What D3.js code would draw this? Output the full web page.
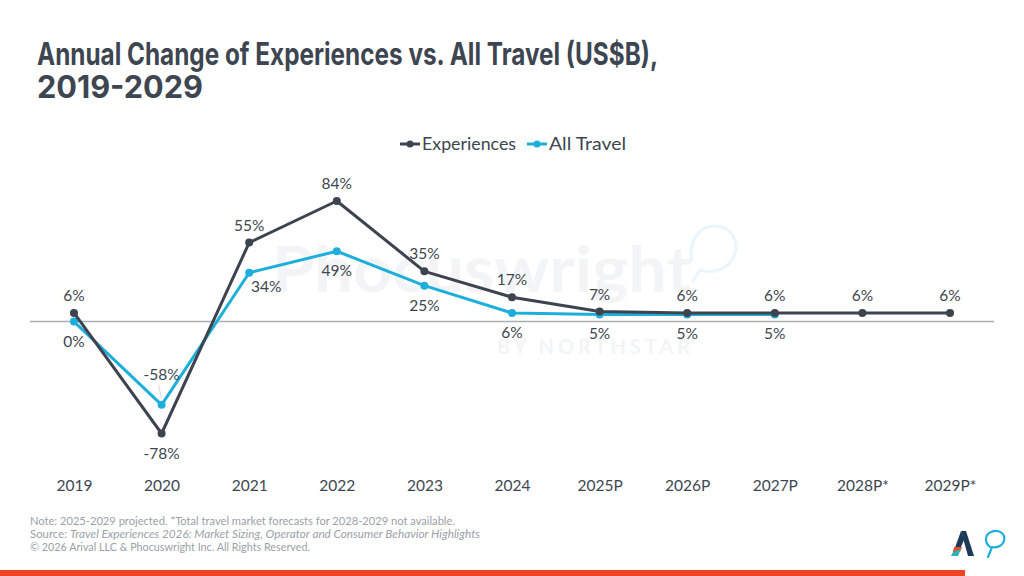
<!DOCTYPE html>
<html><head><meta charset="utf-8">
<script src="https://cdn.jsdelivr.net/npm/d3@7"></script>
<style>
html,body{margin:0;padding:0;background:#fff;}
svg{display:block;font-family:"Lato","Open Sans",sans-serif;}
</style></head>
<body>
<svg id="chart" width="1024" height="576"></svg>
<script>
const categories = ["2019","2020","2021","2022","2023","2024","2025P","2026P","2027P","2028P*","2029P*"];
const experiences = [6,-78,55,84,35,17,7,6,6,6,6];
const allTravel = [0,-58,34,49,25,6,5,5,5,null,null];
const seriesNames = ["Experiences","All Travel"];
const titleLines = ["Annual Change of Experiences vs. All Travel (US$B),","2019-2029"];
const notes = ["Note: 2025-2029 projected. *Total travel market forecasts for 2028-2029 not available.",
  "Source: ", "Travel Experiences 2026: Market Sizing, Operator and Consumer Behavior Highlights",
  "© 2026 Arival LLC & Phocuswright Inc. All Rights Reserved."];

const C_EXP = "#3d4450", C_ALL = "#1eaedb", C_TXT = "#3d4650";
const svg = d3.select("#chart");

// watermark
const wm = svg.append("g").attr("pointer-events","none");
wm.append("text").attr("x",272).attr("y",292).attr("font-size",64).attr("font-weight",700)
  .attr("fill","#f2f4f6").attr("textLength",420).attr("lengthAdjust","spacingAndGlyphs").text("Phocuswright");
wm.append("text").attr("x",497).attr("y",354).attr("font-size",20).attr("font-weight",700)
  .attr("fill","#f2f4f6").attr("textLength",193).attr("lengthAdjust","spacing").text("BY NORTHSTAR");
wm.append("path").attr("d","M692,262 C688,240 700,225 716,226 C732,227 740,242 734,256 C728,270 712,274 700,270 L692,282")
  .attr("fill","none").attr("stroke","#eaf6fb").attr("stroke-width",3);

// title
svg.append("g").selectAll("text").data(titleLines).join("text")
  .attr("x",37).attr("y",(d,i)=>65+i*33).attr("font-family","Inter, 'Open Sans', sans-serif")
  .attr("font-size",31).attr("font-weight",700).attr("fill",C_TXT)
  .attr("textLength",(d,i)=>i===0?621:166).attr("lengthAdjust","spacingAndGlyphs").text(d=>d);

const x = d3.scalePoint().domain(categories).range([74,950]);
const y = d3.scaleLinear().domain([-78,84]).range([433.5,201]);

// zero line
svg.append("line").attr("x1",30).attr("x2",994).attr("y1",y(0)).attr("y2",y(0))
  .attr("stroke","#a8b0b6").attr("stroke-width",1.5);

// x axis
const xAxis = svg.append("g").attr("transform","translate(0,480)")
  .call(d3.axisBottom(x).tickSize(0).tickPadding(0));
xAxis.select(".domain").remove();
xAxis.selectAll("text").attr("font-size",15.5).attr("fill",C_TXT).attr("font-family","Lato, sans-serif");

const line = d3.line().defined(d=>d.v!==null).x(d=>x(d.c)).y(d=>y(d.v));
const expData = categories.map((c,i)=>({c,v:experiences[i],o:allTravel[i]}));
const allData = categories.map((c,i)=>({c,v:allTravel[i],o:experiences[i]}));

function drawSeries(data,color,isExp){
  svg.append("path").datum(data).attr("d",line).attr("fill","none")
    .attr("stroke",color).attr("stroke-width",3).attr("stroke-linejoin","round");
  const pts = data.filter(d=>d.v!==null);
  svg.append("g").selectAll("circle").data(pts).join("circle")
    .attr("cx",d=>x(d.c)).attr("cy",d=>y(d.v)).attr("r",4).attr("fill",color);
  svg.append("g").selectAll("text").data(pts).join("text")
    .attr("x",d=>x(d.c) + (!isExp && d.c==="2021" ? 17 : 0))
    .attr("y",d=>{
      const above = (d.o===null) ? true : (isExp ? d.v>=d.o : d.v>d.o);
      if(!isExp && d.c==="2021") return y(d.v)+19;
      if(!isExp && d.c==="2020") return y(d.v)-25;
      return above ? y(d.v)-12 : y(d.v)+25;
    })
    .attr("text-anchor","middle").attr("font-size",15.5).attr("fill",C_TXT)
    .text(d=>d.v+"%");
}
drawSeries(allData,C_ALL,false);
drawSeries(expData,C_EXP,true);
// leader for -58%
svg.append("line").attr("x1",x("2020")-3).attr("x2",x("2020")).attr("y1",y(-58)-20).attr("y2",y(-58)-6)
  .attr("stroke","#c8cdd1").attr("stroke-width",0.8);

// legend
const lg = svg.append("g");
const legendX = [400,527], legendColors=[C_EXP,C_ALL], legendW=[94,77];
seriesNames.forEach((n,i)=>{
  const g = lg.append("g").attr("transform",`translate(${legendX[i]},144)`);
  g.append("line").attr("x1",0).attr("x2",20).attr("stroke",legendColors[i]).attr("stroke-width",3);
  g.append("circle").attr("cx",10).attr("r",3.5).attr("fill",legendColors[i]);
  g.append("text").attr("x",22).attr("y",6).attr("font-size",17).attr("fill",C_TXT)
    .attr("textLength",legendW[i]).attr("lengthAdjust","spacingAndGlyphs").text(n);
});

// footer notes
const fg = svg.append("g").attr("font-size",10.5).attr("fill","#9aa1a8");
fg.append("text").attr("x",30).attr("y",525).attr("textLength",425).attr("lengthAdjust","spacingAndGlyphs").text(notes[0]);
const src = fg.append("text").attr("x",30).attr("y",538);
src.append("tspan").attr("textLength",40).attr("lengthAdjust","spacingAndGlyphs").text(notes[1]);
src.append("tspan").attr("x",70).attr("font-style","italic").attr("textLength",410).attr("lengthAdjust","spacingAndGlyphs").text(notes[2]);
fg.append("text").attr("x",30).attr("y",551).attr("textLength",280).attr("lengthAdjust","spacingAndGlyphs").text(notes[3]);

// bottom bar
svg.append("rect").attr("x",0).attr("y",570).attr("width",965).attr("height",6).attr("fill","#ee4327");

// logos
const lo = svg.append("g");
lo.append("path").attr("d","M961,531 L966,531 L974,556 L968,556 Z").attr("fill","#1b3a57");
lo.append("path").attr("d","M961,531 L952,556 L957,556 L964,540 Z").attr("fill","#1b3a57");
lo.append("path").attr("d","M954,547 L962,547 L960,552 L953,552 Z").attr("fill","#e8473a");
lo.append("path").attr("d","M953,552 L961,549 L958,556 L951,556 Z").attr("fill","#2bb3b1");
lo.append("path").attr("d","M990,547 C985,543 984,535 991,532 C998,529 1006,533 1004,541 C1002,547 995,548 992,547 L988,557")
  .attr("fill","none").attr("stroke","#1eaedb").attr("stroke-width",2.2).attr("stroke-linecap","round");
</script>
</body></html>
